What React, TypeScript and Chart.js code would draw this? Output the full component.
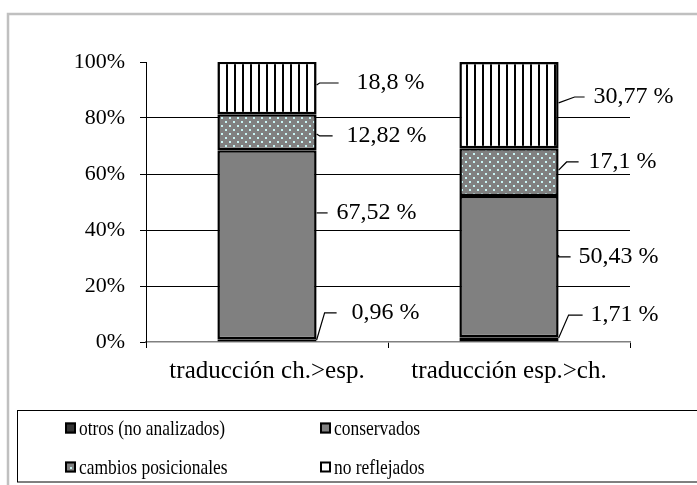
import React, { useEffect, useRef } from "react";
import { Chart, registerables } from "chart.js";

Chart.register(...registerables);

const categories = ["traducción ch.>esp.", "traducción esp.>ch."];
const seriesNames = ["otros (no analizados)", "conservados", "cambios posicionales", "no reflejados"];
const otros = [0.96, 1.71];
const conservados = [67.52, 50.43];
const cambios = [12.82, 17.1];
const noReflejados = [18.8, 30.77];
const yTicks = [0, 20, 40, 60, 80, 100];

// label layout (leader start value, label value, elbow dx, line end dx, text dx) per series per category
const labelLayout = [
  [
    { s: 0.7, l: 10.4, e: 8, end: 20, t: 35 },
    { s: 1.4, l: 9.6, e: 10, end: 24, t: 32 },
  ],
  [
    { s: 46.1, l: 46.1, e: 0, end: 11, t: 20 },
    { s: 31.1, l: 30.4, e: 0, end: 12, t: 20 },
  ],
  [
    { s: 74.3, l: 73.6, e: 3, end: 16, t: 30 },
    { s: 61.4, l: 64.3, e: 8, end: 20, t: 30 },
  ],
  [
    { s: 91.8, l: 92.5, e: 3, end: 22, t: 40 },
    { s: 85.4, l: 87.5, e: 16, end: 26, t: 35 },
  ],
];

const SERIF = "'Liberation Serif', 'Times New Roman', serif";

function makeDots(): CanvasPattern | string {
  const c = document.createElement("canvas");
  c.width = 8;
  c.height = 8;
  const g = c.getContext("2d");
  if (!g) return "#808080";
  g.fillStyle = "#808080";
  g.fillRect(0, 0, 8, 8);
  g.fillStyle = "#c8f4f4";
  g.fillRect(1, 1, 2, 2);
  g.fillRect(5, 5, 2, 2);
  return g.createPattern(c, "repeat") || "#808080";
}

function makeStripes(): CanvasPattern | string {
  const c = document.createElement("canvas");
  c.width = 8;
  c.height = 8;
  const g = c.getContext("2d");
  if (!g) return "#ffffff";
  g.fillStyle = "#ffffff";
  g.fillRect(0, 0, 8, 8);
  g.fillStyle = "#000000";
  g.fillRect(2, 0, 2, 8);
  return g.createPattern(c, "repeat") || "#ffffff";
}

export default function App() {
  const ref = useRef<HTMLCanvasElement | null>(null);

  useEffect(() => {
    if (!ref.current) return;
    const dots = makeDots();
    const stripes = makeStripes();
    const fills: any[] = ["#333333", "#808080", dots, stripes];
    const legendFills = ["#333333", "#808080", "#808080", "#ffffff"];
    const values = [otros, conservados, cambios, noReflejados];

    const framePlugin = {
      id: "frame",
      beforeDraw(chart: any) {
        const ctx = chart.ctx;
        ctx.save();
        ctx.fillStyle = "#ffffff";
        ctx.fillRect(0, 0, chart.width, chart.height);
        ctx.strokeStyle = "#c0c0c0";
        ctx.lineWidth = 2.5;
        ctx.strokeRect(8, 14, chart.width + 20, chart.height + 20);
        ctx.restore();
      },
    };

    const labelPlugin = {
      id: "leaderLabels",
      afterDatasetsDraw(chart: any) {
        const ctx = chart.ctx;
        const ys = chart.scales.y;
        ctx.save();
        ctx.font = `24px ${SERIF}`;
        ctx.fillStyle = "#000";
        ctx.strokeStyle = "#000";
        ctx.lineWidth = 1.2;
        ctx.textBaseline = "middle";
        ctx.textAlign = "left";
        values.forEach((arr, i) => {
          const meta = chart.getDatasetMeta(i);
          arr.forEach((v, j) => {
            const bar: any = meta.data[j];
            const lay = labelLayout[i][j];
            const right = bar.x + bar.width / 2;
            const sy = ys.getPixelForValue(lay.s);
            const ly = ys.getPixelForValue(lay.l);
            ctx.beginPath();
            ctx.moveTo(right, sy);
            ctx.lineTo(right + lay.e, ly);
            ctx.lineTo(right + lay.end, ly);
            ctx.stroke();
            const txt = String(v).replace(".", ",") + " %";
            ctx.fillText(txt, right + lay.t, ly);
          });
        });
        ctx.restore();
      },
    };

    const legendPlugin = {
      id: "boxLegend",
      afterDraw(chart: any) {
        const ctx = chart.ctx;
        ctx.save();
        ctx.strokeStyle = "#000";
        ctx.lineWidth = 1;
        ctx.strokeRect(17.5, 410.5, chart.width, 71.5);
        const cols = [65, 320];
        const rows = [428, 467];
        ctx.font = `21px ${SERIF}`;
        ctx.textBaseline = "middle";
        ctx.textAlign = "left";
        seriesNames.forEach((name, i) => {
          const x = cols[i % 2];
          const y = rows[Math.floor(i / 2)];
          ctx.fillStyle = legendFills[i];
          ctx.fillRect(x, y - 5.5, 11, 11);
          ctx.lineWidth = 2;
          ctx.strokeStyle = "#000";
          ctx.strokeRect(x + 1, y - 4.5, 9, 9);
          if (i === 2) {
            ctx.fillStyle = "#c8f4f4";
            ctx.fillRect(x + 5, y, 2, 2);
          }
          ctx.save();
          ctx.translate(x + 14, y + 1);
          ctx.scale(0.83, 1);
          ctx.fillStyle = "#000";
          ctx.fillText(name, 0, 0);
          ctx.restore();
        });
        ctx.restore();
      },
    };

    const chart = new Chart(ref.current, {
      type: "bar",
      data: {
        labels: categories,
        datasets: seriesNames.map((name, i) => ({
          label: name,
          data: values[i],
          backgroundColor: fills[i],
          borderColor: "#000",
          borderWidth: 2.5,
          borderSkipped: false,
          categoryPercentage: 1,
          barPercentage: 0.41,
        })),
      },
      options: {
        responsive: false,
        animation: false,
        layout: { padding: { left: 0, right: 67, top: 62, bottom: 0 } },
        plugins: {
          legend: { display: false },
          tooltip: { enabled: false },
          title: { display: false },
        },
        scales: {
          x: {
            stacked: true,
            offset: true,
            grid: {
              offset: true,
              drawOnChartArea: false,
              drawTicks: true,
              tickLength: 6,
              color: "#000",
              tickColor: "#000",
            },
            border: { color: "#808080", width: 1.5 },
            ticks: {
              color: "#000",
              padding: 8,
              font: { family: SERIF, size: 25 },
              maxRotation: 0,
            },
            afterFit: (s: any) => {
              s.height = 143;
            },
          },
          y: {
            stacked: true,
            min: 0,
            max: 100,
            afterBuildTicks: (s: any) => {
              s.ticks = yTicks.map((v) => ({ value: v }));
            },
            ticks: {
              color: "#000",
              padding: 15,
              font: { family: SERIF, size: 22 },
              callback: (v: any) => v + "%",
            },
            grid: {
              color: (c: any) =>
                c.tick && (c.tick.value === 100 || c.tick.value === 0) ? "rgba(0,0,0,0)" : "#000",
              tickColor: "#000",
              tickLength: 6,
              lineWidth: 1,
            },
            border: { color: "#000", width: 1 },
            afterFit: (s: any) => {
              s.width = 146;
            },
          },
        },
      },
      plugins: [framePlugin, labelPlugin, legendPlugin],
    });
    return () => chart.destroy();
  }, []);

  return (
    <div style={{ position: "fixed", left: 0, top: 0, width: 697, height: 485 }}>
      <canvas ref={ref} width={697} height={485} />
    </div>
  );
}
